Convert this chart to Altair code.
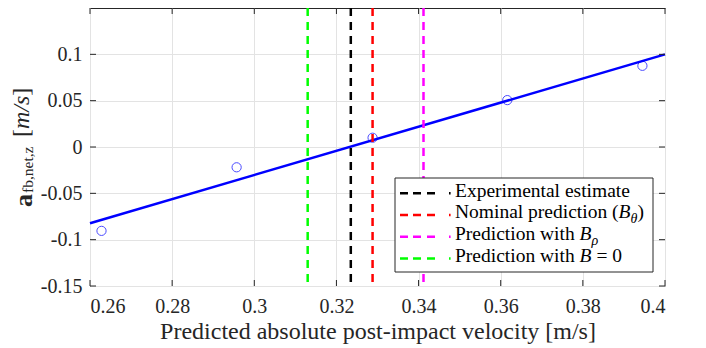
import altair as alt
import pandas as pd

# ---------------- data ----------------
velocity = [0.2628, 0.2957, 0.3288, 0.3616, 0.3945]
acc_z = [-0.0905, -0.0219, 0.0100, 0.0506, 0.0876]

ref_names = ["Experimental estimate", "Nominal prediction", "Prediction with B_rho", "Prediction with B=0"]
ref_values = [0.3235, 0.3288, 0.3412, 0.3130]
ref_colors = ["#000000", "#ff0000", "#ff00ff", "#00ff00"]

x_ticks = [0.26, 0.28, 0.3, 0.32, 0.34, 0.36, 0.38, 0.4]
y_ticks = [-0.15, -0.1, -0.05, 0, 0.05, 0.1]

x_title = "Predicted absolute post-impact velocity [m/s]"

# ---------------- style ----------------
W, H = 575, 278
FONT = "Liberation Serif"
AX = "#262626"
GRID = "#e3e3e3"

# Times-compatible glyph widths (per 1000 em) for placing mixed-style text runs
REG = {' ': 250, '(': 333, ')': 333, '=': 564, '0': 500, '[': 333, ']': 333, ',': 250,
       'E': 611, 'N': 722, 'P': 556, 'a': 444, 'b': 500, 'c': 444, 'd': 500, 'e': 444,
       'f': 333, 'h': 500, 'i': 278, 'l': 278, 'm': 778, 'n': 500, 'o': 500, 'p': 500,
       'r': 333, 's': 389, 't': 278, 'w': 722, 'x': 500, 'z': 444}
ITA = {'B': 611, 'm': 722, '/': 278, 's': 389, 'θ': 500, 'ρ': 500}
BLD = {'a': 500}


def width(text, style, size):
    table = {"n": REG, "i": ITA, "b": BLD}[style]
    return sum(table.get(c, 500) for c in text) / 1000 * size


LEG_FS, SUB_FS = 19.5, 14
legend_rows = [
    [("Experimental estimate", "n", LEG_FS, 0)],
    [("Nominal prediction (", "n", LEG_FS, 0), ("B", "i", LEG_FS, 0), ("θ", "i", SUB_FS, 5), (")", "n", LEG_FS, 0)],
    [("Prediction with ", "n", LEG_FS, 0), ("B", "i", LEG_FS, 0), ("ρ", "i", SUB_FS, 5)],
    [("Prediction with ", "n", LEG_FS, 0), ("B", "i", LEG_FS, 0), (" = 0", "n", LEG_FS, 0)],
]

segs = []
for r, row in enumerate(legend_rows):
    x = 365.0
    base_y = 188.7 + 21.7 * r
    for text, style, fs, shift in row:
        shown = text.lstrip(" ")
        lead = width(text[: len(text) - len(shown)], "n", fs)
        segs.append({"text": shown, "px": x + lead, "py": base_y + shift, "fs": fs, "st": style, "grp": "leg"})
        x += width(text, style, fs)

# y-axis title runs (rotated, read bottom to top)
ytitle = [("a", "b", 26, -58, 0), ("fb,net,z", "n", 15.5, -57, 1), ("[", "n", 24, -61, 9.5),
          ("m/s", "i", 24, -61, 0), ("]", "n", 24, -61, 0)]
ypos = 199.0
for text, style, fs, bx, gap in ytitle:
    ypos -= gap
    segs.append({"text": text, "px": bx, "py": ypos, "fs": fs, "st": style, "grp": "yt"})
    ypos -= width(text, style, fs)

seg_df = pd.DataFrame(segs)

# ---------------- chart ----------------
pts = pd.DataFrame({"v": velocity, "a": acc_z})
refs = pd.DataFrame({"name": ref_names, "v": ref_values, "row": list(range(len(ref_names)))})

xs = alt.Scale(domain=[0.26, 0.4], nice=False, zero=False)
ys = alt.Scale(domain=[-0.15, 0.15], nice=False, zero=False)
cs = alt.Scale(domain=ref_names, range=ref_colors)
lab = "replace(format(datum.value, '~g'), '\u2212', '-')"

xaxis = alt.Axis(values=x_ticks, labelExpr=lab, grid=True, gridColor=GRID, gridWidth=1,
                 domain=False, ticks=False, labelFont=FONT, labelFontSize=20, labelColor=AX,
                 labelPadding=10, labelOverlap=False, title=x_title, titleFont=FONT,
                 titleFontSize=24, titleFontWeight="normal", titleColor=AX, titlePadding=3)
yaxis = alt.Axis(values=y_ticks, labelExpr=lab, grid=True, gridColor=GRID, gridWidth=1,
                 domain=False, ticks=False, labelFont=FONT, labelFontSize=20, labelColor=AX,
                 labelPadding=8, labelOverlap=False, title=None)

fit = alt.Chart(pts).transform_regression("v", "a", extent=[0.26, 0.4]).mark_line(
    color="#0000ff", strokeWidth=2.5
).encode(x=alt.X("v:Q", scale=xs, axis=xaxis), y=alt.Y("a:Q", scale=ys, axis=yaxis))

points = alt.Chart(pts).mark_point(shape="circle", filled=False, size=85, color="#0000ff",
                                   strokeWidth=1).encode(x="v:Q", y="a:Q")

vlines = alt.Chart(refs).mark_rule(strokeDash=[8, 6], strokeWidth=2.5).encode(
    x="v:Q", color=alt.Color("name:N", scale=cs, legend=None))

# inward ticks on all four sides
xt = pd.DataFrame({"v": x_ticks})
yt = pd.DataFrame({"a": y_ticks})
tick_b = alt.Chart(xt).mark_rule(color=AX, strokeWidth=1).encode(x="v:Q", y=alt.value(H), y2=alt.value(H - 6))
tick_t = alt.Chart(xt).mark_rule(color=AX, strokeWidth=1).encode(x="v:Q", y=alt.value(0), y2=alt.value(6))
tick_l = alt.Chart(yt).mark_rule(color=AX, strokeWidth=1).encode(y="a:Q", x=alt.value(0), x2=alt.value(6))
tick_r = alt.Chart(yt).mark_rule(color=AX, strokeWidth=1).encode(y="a:Q", x=alt.value(W), x2=alt.value(W - 6))

# legend
leg_box = alt.Chart(pd.DataFrame({"k": [0]})).mark_rect(fill="white", stroke=AX, strokeWidth=1).encode(
    x=alt.value(305), x2=alt.value(563), y=alt.value(170), y2=alt.value(264))
leg_sym = alt.Chart(refs).transform_calculate(ly="185.3 + 21.7 * datum.row").mark_rule(
    strokeDash=[8, 5, 8, 6, 8, 14, 1.6, 100], strokeWidth=2.5
).encode(x=alt.value(310), x2=alt.value(361), y=alt.Y("ly:Q", scale=None, axis=None),
         color=alt.Color("name:N", scale=cs, legend=None))


def text_layer(grp, style, color, angle=0):
    kw = dict(font=FONT, align="left", baseline="alphabetic", color=color)
    if angle:
        kw["angle"] = angle
    if style == "i":
        kw["fontStyle"] = "italic"
    if style == "b":
        kw["fontWeight"] = "bold"
    return alt.Chart(seg_df).transform_filter(
        f"datum.grp == '{grp}' && datum.st == '{style}'"
    ).mark_text(**kw).encode(
        x=alt.X("px:Q", scale=None, axis=None),
        y=alt.Y("py:Q", scale=None, axis=None),
        text="text:N",
        size=alt.Size("fs:Q", scale=None, legend=None),
    )


texts = [
    text_layer("leg", "n", "#000000"),
    text_layer("leg", "i", "#000000"),
    text_layer("yt", "n", AX, 270),
    text_layer("yt", "i", AX, 270),
    text_layer("yt", "b", AX, 270),
]

chart = alt.layer(
    fit, points, vlines, tick_b, tick_t, tick_l, tick_r, leg_box, leg_sym, *texts
).properties(
    width=W, height=H,
    autosize=alt.AutoSizeParams(type="none"),
    padding={"left": 82, "top": 0, "right": 33, "bottom": 62},
).configure_view(stroke=AX, strokeWidth=1)

chart.save("out.html", embed_options={"renderer": "svg", "actions": False})
